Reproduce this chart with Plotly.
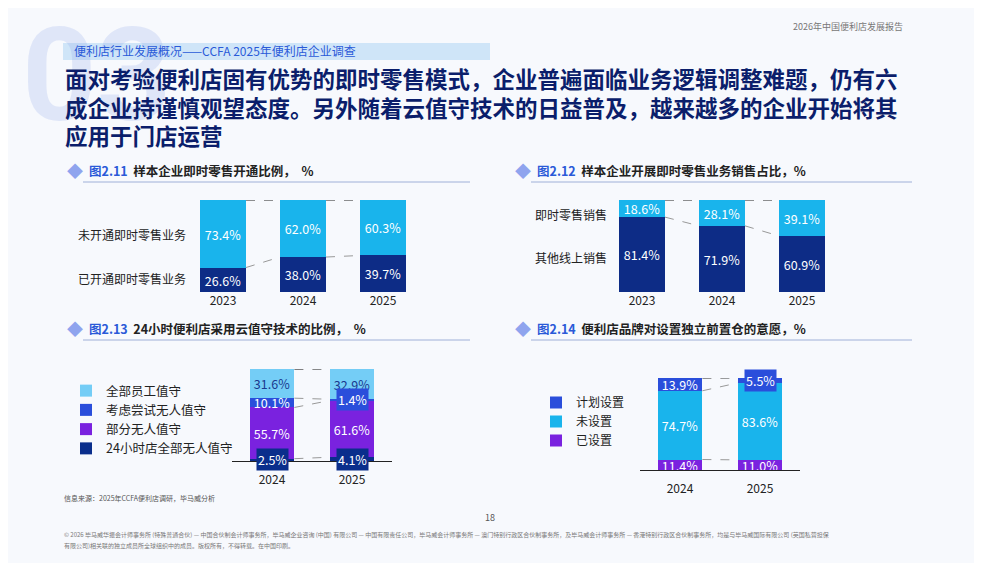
import plotly.graph_objects as go

W, H = 982, 563
OFF = 8  # page body margin in browser

# chart 2.11
years1 = ["2023", "2024", "2025"]
open_share = [26.6, 38.0, 39.7]
not_open_share = [73.4, 62.0, 60.3]
# chart 2.12
other_online = [81.4, 71.9, 60.9]
instant_retail = [18.6, 28.1, 39.1]
# chart 2.13
years3 = ["2024", "2025"]
all_unmanned = [2.5, 4.1]
part_unmanned = [55.7, 61.6]
consider_unmanned = [10.1, 1.4]
all_staff = [31.6, 32.9]
# chart 2.14
set_up = [11.4, 11.0]
not_set = [74.7, 83.6]
plan_set = [13.9, 5.5]

NAVY = "#0D2C86"
CYAN = "#19B4EC"
FONT = "Noto Sans CJK SC"
FW, FH = W - OFF, H - OFF


def px(x):
    return (x - OFF) / FW


def py(y):
    return 1 - (y - OFF) / FH


fig = go.Figure()

charts = [
    dict(ax="", x0=183, x1=423, y0=200, y1=292, cats=years1, w=0.575,
         series=[("已开通即时零售业务", open_share, NAVY, "white"),
                 ("未开通即时零售业务", not_open_share, CYAN, "white")], legend=None, line=False),
    dict(ax="2", x0=602, x1=842, y0=200, y1=292, cats=years1, w=0.575,
         series=[("其他线上销售", other_online, NAVY, "white"),
                 ("即时零售销售", instant_retail, CYAN, "white")], legend=None, line=False),
    dict(ax="3", x0=232, x1=392, y0=369, y1=461, cats=years3, w=0.56,
         series=[("24小时店全部无人值守", all_unmanned, "#0A2E8C", "white"),
                 ("部分无人值守", part_unmanned, "#7A22DF", "white"),
                 ("考虑尝试无人值守", consider_unmanned, "#2A4EDB", "white"),
                 ("全部员工值守", all_staff, "#74CDF6", "#1A3A8F")], legend="legend", line=True),
    dict(ax="4", x0=640, x1=800, y0=378, y1=470, cats=years3, w=0.56,
         series=[("已设置", set_up, "#7A22DF", "white"),
                 ("未设置", not_set, CYAN, "white"),
                 ("计划设置", plan_set, "#2A4EDB", "white")], legend="legend2", line=True),
]

shapes = []
ann = []
for c in charts:
    xa, ya = "x" + c["ax"], "y" + c["ax"]
    cum = [0] * len(c["cats"])
    for name, vals, col, tc in c["series"]:
        fig.add_trace(go.Bar(
            x=list(range(len(c["cats"]))), y=vals, name=name, width=c["w"],
            marker=dict(color=col, line=dict(width=0)),
            text=[f"{v:.1f}%" if v >= 7 else "" for v in vals], textposition="inside",
            insidetextanchor="middle", textfont=dict(color=tc, size=12.5, family=FONT),
            xaxis=xa, yaxis=ya, showlegend=c["legend"] is not None,
            legend=c["legend"] or "legend",
        ))
        for i, v in enumerate(vals):
            if v < 7:
                ann.append(dict(xref=xa, yref=ya, x=i, y=cum[i] + v / 2, text=f"{v:.1f}%",
                                showarrow=False, bgcolor=col, borderpad=1,
                                font=dict(color=tc, size=12.5, family=FONT)))
        cum = [a + b for a, b in zip(cum, vals)]
        for i in range(len(c["cats"]) - 1):
            shapes.append(dict(type="line", xref=xa, yref=ya,
                               x0=i + c["w"] / 2, x1=i + 1 - c["w"] / 2,
                               y0=cum[i], y1=cum[i + 1],
                               line=dict(color="#999999" if cum[i] < 99 else "#222222",
                                         width=1, dash="dash")))
    fig.layout["xaxis" + c["ax"]] = dict(
        domain=[px(c["x0"]), px(c["x1"])], range=[-0.5, len(c["cats"]) - 0.5],
        tickvals=list(range(len(c["cats"]))), ticktext=c["cats"],
        showgrid=False, zeroline=False, ticks="",
        ticklabelstandoff=8 if c["line"] else 0,
        showline=c["line"], linecolor="#222222", linewidth=1,
        tickfont=dict(size=12, color="#222222", family=FONT), anchor=ya, fixedrange=True)
    fig.layout["yaxis" + c["ax"]] = dict(domain=[py(c["y1"]), py(c["y0"])], range=[0, 100],
                                         visible=False, anchor=xa, fixedrange=True)


def text(x, y, s, size=12, color="#222222", bold=False, xanchor="left"):
    ann.append(dict(xref="paper", yref="paper", x=px(x), y=py(y), text=f"<b>{s}</b>" if bold else s,
                    showarrow=False, xanchor=xanchor, yanchor="middle",
                    font=dict(size=size, color=color, family=FONT)))


# big faint "03"
ann.append(dict(xref="paper", yref="paper", x=px(20), y=py(75), text="<b>03</b>", showarrow=False,
                xanchor="left", yanchor="middle",
                font=dict(size=130, color="rgba(140,165,230,0.22)", family="Roboto")))
shapes.append(dict(type="rect", xref="paper", yref="paper", x0=px(63), x1=px(490),
                   y0=py(60), y1=py(43), fillcolor="rgba(180,215,245,0.6)", line=dict(width=0)))
text(72, 51, "便利店行业发展概况——CCFA 2025年便利店企业调查", size=12, color="#2A5AD8")
text(905, 27, "2026年中国便利店发展报告", size=9, color="#777777", xanchor="right")
for y, s in [(78, "面对考验便利店固有优势的即时零售模式，企业普遍面临业务逻辑调整难题，仍有六"),
             (107, "成企业持谨慎观望态度。另外随着云值守技术的日益普及，越来越多的企业开始将其"),
             (135, "应用于门店运营")]:
    text(63, y, s, size=22.5, color="#0B1E6B", bold=True)

for x0, x1, y, num, title in [
        (65, 470, 170, "图2.11", "样本企业即时零售开通比例，  %"),
        (513, 912, 170, "图2.12", "样本企业开展即时零售业务销售占比，%"),
        (65, 470, 328, "图2.13", "24小时便利店采用云值守技术的比例，  %"),
        (513, 912, 328, "图2.14", "便利店品牌对设置独立前置仓的意愿，%")]:
    text(x0, y, "◆", size=16, color="#8FA4EE")
    text(x0 + 22, y, f"<b><span style='color:#2A5AD8'>{num}</span></b>  <b>{title}</b>", size=12.5)
    shapes.append(dict(type="line", xref="paper", yref="paper", x0=px(x0 + 18), x1=px(x1),
                       y0=py(y + 12), y1=py(y + 12), line=dict(color="#9FB0D8", width=1)))

text(188, 234, "未开通即时零售业务", xanchor="right")
text(188, 278, "已开通即时零售业务", xanchor="right")
text(609, 214, "即时零售销售", xanchor="right")
text(609, 257, "其他线上销售", xanchor="right")

text(62, 498, "信息来源：2025年CCFA便利店调研，毕马威分析", size=7, color="#555555")
text(490, 517, "18", size=9, color="#555555", xanchor="center")
text(62, 534, "© 2026 毕马威华振会计师事务所 (特殊普通合伙) — 中国合伙制会计师事务所，毕马威企业咨询 (中国) 有限公司 — 中国有限责任公司，毕马威会计师事务所 — 澳门特别行政区合伙制事务所，及毕马威会计师事务所 — 香港特别行政区合伙制事务所，均是与毕马威国际有限公司 (英国私营担保",
     size=6, color="#777777")
text(62, 545, "有限公司)相关联的独立成员所全球组织中的成员。版权所有，不得转载。在中国印刷。", size=6, color="#777777")

fig.update_layout(
    width=FW, height=FH, margin=dict(l=0, r=0, t=0, b=0),
    paper_bgcolor="#F7F9FD", plot_bgcolor="rgba(0,0,0,0)",
    barmode="stack", bargap=0, annotations=ann, shapes=shapes,
    uniformtext=dict(minsize=12, mode="show"),
    font=dict(family=FONT),
    legend=dict(x=px(66), y=py(376), xanchor="left", yanchor="top", traceorder="reversed",
                font=dict(size=12.5, color="#222222"), bgcolor="rgba(0,0,0,0)", itemwidth=30),
    legend2=dict(x=px(536), y=py(388), xanchor="left", yanchor="top", traceorder="reversed",
                 font=dict(size=12, color="#222222"), bgcolor="rgba(0,0,0,0)", itemwidth=30),
)

fig.write_html("out.html")
